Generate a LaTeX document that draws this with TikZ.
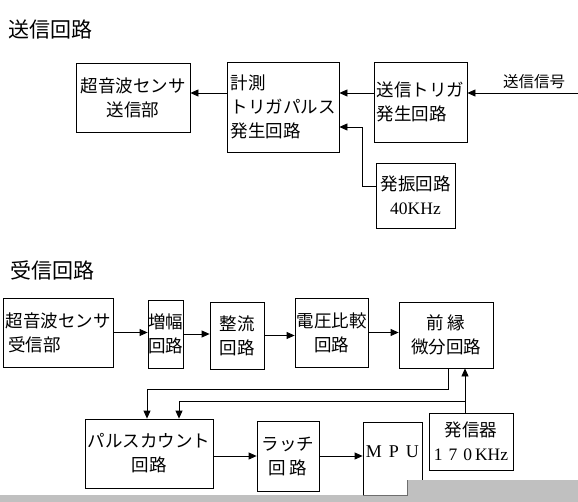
\documentclass[tikz,border=0pt]{standalone}
\usepackage{fontspec}
\setmainfont{Noto Sans CJK JP}
\newfontfamily\latinserif{Liberation Serif}
\usetikzlibrary{arrows.meta, positioning}
\definecolor{barbg}{RGB}{192, 192, 192}
\definecolor{bardark}{RGB}{110, 110, 110}
\tikzset{
    blk/.style={draw, line width=0.8pt, inner sep=0pt, align=center, font=\fontsize{17.5}{24}\selectfont},
    sect/.style={inner sep=0pt, anchor=west, font=\fontsize{21}{25}\selectfont},
    lbl/.style={inner sep=0pt, font=\fontsize{15.5}{20}\selectfont},
    sig/.style={-{Triangle[length=8pt, width=7pt]}, line width=0.8pt}
}
\begin{document}
\begin{tikzpicture}[x=1pt, y=-1pt]
\useasboundingbox (0,0) rectangle (578,502);
% send side
\node[sect] (txhead) at (8,30) {送信回路};
\node[blk, minimum width=114, minimum height=69] (txsens) at (133,97.5) {超音波センサ\\送信部};
\node[blk, align=left, minimum width=112, minimum height=90] (meas) at (283,107) {計測\\トリガパルス\\発生回路};
\node[blk, align=left, minimum width=93, minimum height=80] (trig) at (420.5,102) {送信トリガ\\発生回路};
\node[blk, minimum width=79, minimum height=65] (osc40) at (415.5,195.5) {発振回路\\{\latinserif 40KHz}};
\node[lbl] (txsig) at (534,82) {送信信号};
\coordinate (sigin) at (578,93);
\draw[sig] (sigin) -- (trig.east |- sigin);
\draw[sig] (trig.west |- sigin) -- (meas.east |- sigin);
\draw[sig] (meas.west |- sigin) -- (txsens.east |- sigin);
\draw[sig] ([yshift=9.5pt]osc40.west) -- ++(-13,0) |- ([yshift=-20pt]meas.east);
% receive side
\node[sect] (rxhead) at (10,270) {受信回路};
\node[blk, align=left, minimum width=110, minimum height=69] (rxsens) at (58,332.5) {超音波センサ\\\,受信部};
\node[blk, minimum width=35, minimum height=68] (amp) at (165.5,334) {増幅\\回路};
\node[blk, minimum width=54, minimum height=67] (rect) at (237,335.5) {整流\\回路};
\node[blk, minimum width=73, minimum height=69] (comp) at (331.5,332.5) {電圧比較\\回路};
\node[blk, minimum width=94, minimum height=66] (edge) at (446,335) {前 縁\\微分回路};
\node[blk, minimum width=128, minimum height=69] (cnt) at (149,453.5) {パルスカウント\\回路};
\node[blk, minimum width=62, minimum height=70] (latch) at (288,456) {ラッチ\\回 路};
\node[blk, minimum width=59, minimum height=80] (mpu) at (392.5,462) {};
\node[inner sep=0pt, font=\fontsize{18}{24}\selectfont] (mputxt) at (392.5,452) {\latinserif M\hspace{7pt}P\hspace{7pt}U};
\node[blk, minimum width=84, minimum height=57] (gen) at (471,441.5) {発信器\\{\latinserif 1\hspace{6pt}7\hspace{6pt}0\hspace{3pt}KHz}};
\coordinate (busa) at (0,389);
\coordinate (busb) at (0,401);
\draw[sig] (rxsens.east) -- (rxsens.east -| amp.west);
\draw[sig] (amp.east) -- (amp.east -| rect.west);
\draw[sig] (rect.east) -- (rect.east -| comp.west);
\draw[sig] (comp.east) -- (comp.east -| edge.west);
\draw[sig] ([xshift=2pt]edge.south) |- ([xshift=-2pt]cnt.north |- busa) -- ([xshift=-2pt]cnt.north);
\draw[sig] ([xshift=-6pt]gen.north) -- ([xshift=-6pt]gen.north |- edge.south);
\draw[sig] ([xshift=-6pt]gen.north |- busb) -| ([xshift=30pt]cnt.north);
\draw[sig] (cnt.east |- latch.west) -- (latch.west);
\draw[sig] (latch.east) -- (latch.east -| mpu.west);
% screen bar at the bottom
\fill[barbg] (0,495) -- (407,495) -- (407,480) -- (578,480) -- (578,502) -- (0,502) -- cycle;
\draw[bardark, line width=0.8pt] (363,495) -- (407,495) -- (407,480);
\end{tikzpicture}
\end{document}
